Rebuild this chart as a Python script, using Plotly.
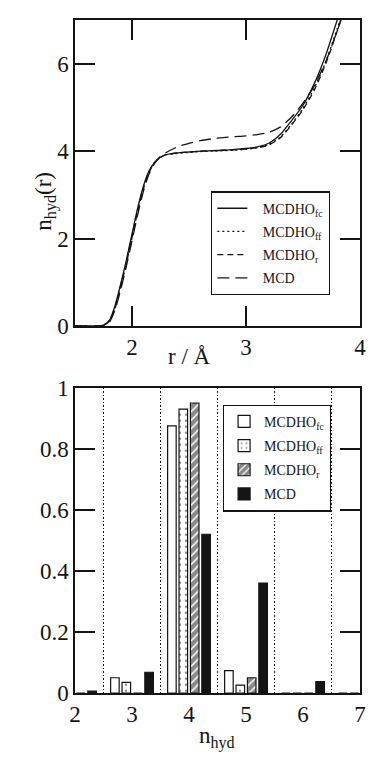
import plotly.graph_objects as go

# ---------------- data: top panel (running coordination number) ----------------
r_vals = [1.5, 1.7, 1.75, 1.8, 1.85, 1.9, 1.95, 2.0, 2.05, 2.1, 2.15, 2.2, 2.25, 2.3,
          2.4, 2.5, 2.6, 2.7, 2.8, 2.9, 3.0, 3.1, 3.2, 3.3, 3.4, 3.5, 3.6, 3.7, 3.8, 3.9, 4.0]
n_fc = [0, 0, 0.02, 0.12, 0.45, 0.95, 1.5, 2.1, 2.7, 3.2, 3.55, 3.75, 3.86, 3.92,
        3.96, 3.98, 4.0, 4.01, 4.02, 4.04, 4.06, 4.1, 4.18, 4.38, 4.7, 5.05, 5.55, 6.2, 7.0, 7.8, 8.6]
n_ff = [0, 0, 0.02, 0.11, 0.43, 0.92, 1.47, 2.07, 2.67, 3.18, 3.54, 3.75, 3.86, 3.92,
        3.95, 3.97, 3.99, 4.0, 4.01, 4.02, 4.04, 4.08, 4.15, 4.32, 4.62, 4.98, 5.45, 6.05, 6.8, 7.6, 8.4]
n_r = [0, 0, 0.02, 0.1, 0.4, 0.88, 1.42, 2.02, 2.62, 3.14, 3.52, 3.74, 3.86, 3.92,
       3.96, 3.98, 4.0, 4.01, 4.02, 4.03, 4.05, 4.08, 4.14, 4.3, 4.6, 4.95, 5.4, 6.0, 6.75, 7.55, 8.35]
n_mcd = [0, 0, 0.01, 0.08, 0.36, 0.82, 1.36, 1.95, 2.55, 3.08, 3.48, 3.73, 3.88, 3.97,
         4.1, 4.18, 4.24, 4.28, 4.31, 4.33, 4.35, 4.38, 4.43, 4.55, 4.78, 5.1, 5.5, 6.05, 6.75, 7.5, 8.3]

# ---------------- data: bottom panel (distribution of n_hyd) ----------------
n_hyd = [2, 3, 4, 5, 6, 7]
p_fc = [0, 0.05, 0.875, 0.073, 0, 0]
p_ff = [0, 0.035, 0.93, 0.026, 0, 0]
p_r = [0, 0, 0.95, 0.05, 0, 0]
p_mcd = [0.006, 0.068, 0.52, 0.36, 0.037, 0]

names = ["MCDHO<sub>fc</sub>", "MCDHO<sub>ff</sub>", "MCDHO<sub>r</sub>", "MCD"]

FONT = "Liberation Serif"
INK = "#141414"
W, H = 374, 759
ML, MR, MT, MB = 75, 8, 14, 66
PW, PH = W - ML - MR, H - MT - MB


def px_x(p):
    return (p - ML) / PW


def px_y(p):
    return (H - MB - p) / PH


fig = go.Figure()

line_styles = ["solid", "2px,3px", "6px,4px", "12px,6px"]
for i, (name, ys, dash) in enumerate(zip(names, [n_fc, n_ff, n_r, n_mcd], line_styles)):
    fig.add_trace(go.Scatter(
        x=r_vals, y=ys, mode="lines", name="&nbsp;&nbsp;&nbsp;" + name,
        line=dict(color=INK, width=1.3, dash=dash, shape="spline", smoothing=0.6),
        xaxis="x", yaxis="y", legend="legend", legendgroup="a%d" % i,
    ))

bar_specs = [
    (p_fc, dict(color="white")),
    (p_ff, dict(color="white", pattern=dict(shape=".", fgcolor=INK, bgcolor="white", size=6, solidity=0.12))),
    (p_r, dict(color=INK, pattern=dict(shape="/", fgcolor=INK, bgcolor="white", size=6, solidity=0.75))),
    (p_mcd, dict(color=INK)),
]
for i, (name, (vals, mk)) in enumerate(zip(names, bar_specs)):
    mk = dict(mk)
    mk["line"] = dict(color=INK, width=1.2)
    fig.add_trace(go.Bar(
        x=n_hyd, y=vals, name=name, marker=mk,
        xaxis="x2", yaxis="y2", legend="legend2", legendgroup="b%d" % i,
    ))

top_y0 = px_y(322.7)
bot_y1 = px_y(385)

tf = dict(family=FONT, size=23, color=INK)
base = dict(showline=True, linecolor=INK, linewidth=1.5, showgrid=False, zeroline=False, tickfont=tf)
tk = dict(mirror="ticks", ticks="inside", ticklen=20, tickwidth=2, tickcolor=INK)

fig.update_layout(
    width=W, height=H,
    margin=dict(l=ML, r=MR, t=MT, b=MB),
    paper_bgcolor="white", plot_bgcolor="white",
    font=dict(family=FONT, color=INK),
    barmode="group", bargap=0.2, bargroupgap=0.25,
    xaxis=dict(domain=[0, 1], anchor="y", range=[1.5, 4], tick0=0, dtick=1, **tk, **base),
    yaxis=dict(domain=[top_y0, 1], anchor="x", range=[0, 7], tick0=0, dtick=2, **tk, **base),
    xaxis2=dict(domain=[0, 1], anchor="y2", range=[2, 7], tick0=2, dtick=1,
                mirror=True, ticks="",
                minor=dict(tick0=2.5, dtick=1, showgrid=True, gridcolor=INK,
                           gridwidth=1.2, griddash="1.5px,2px"),
                **base),
    yaxis2=dict(domain=[0, bot_y1], anchor="x2", range=[0, 1], tick0=0, dtick=0.2, **tk, **base),
    legend=dict(x=px_x(214), y=px_y(187), xanchor="left", yanchor="top",
                bgcolor="white", bordercolor=INK, borderwidth=1.2,
                font=dict(family=FONT, size=14, color=INK), tracegroupgap=2),
    legend2=dict(x=px_x(226), y=px_y(402), xanchor="left", yanchor="top",
                 bgcolor="white", bordercolor=INK, borderwidth=1.2,
                 font=dict(family=FONT, size=14, color=INK), tracegroupgap=3),
    annotations=[
        dict(text="n<sub>hyd</sub>(r)", x=px_x(28), y=px_y(165), xref="paper", yref="paper",
             textangle=-90, showarrow=False, font=dict(family=FONT, size=23, color=INK)),
        dict(text="r / Å", x=px_x(192), y=px_y(353), xref="paper", yref="paper",
             showarrow=False, font=dict(family=FONT, size=23, color=INK)),
        dict(text="n<sub>hyd</sub>", x=px_x(220), y=px_y(755), xref="paper", yref="paper",
             showarrow=False, font=dict(family=FONT, size=23, color=INK)),
    ],
)

fig.write_html("out.html")
